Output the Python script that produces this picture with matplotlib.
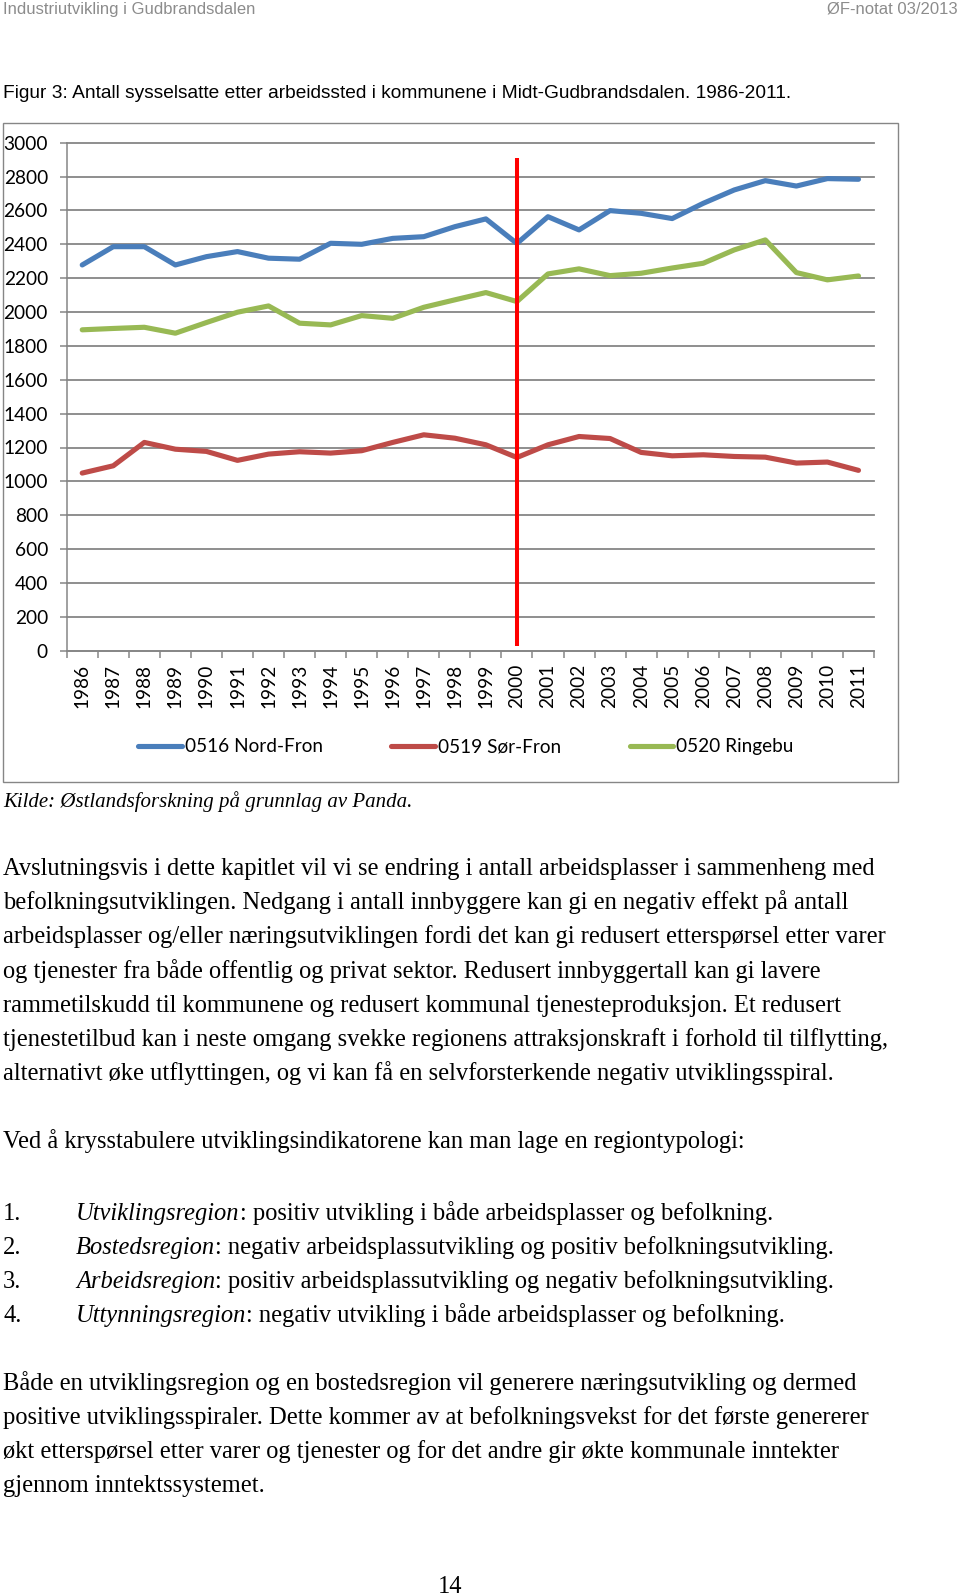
import matplotlib
matplotlib.use('Agg')
import matplotlib.pyplot as plt
from matplotlib.patches import Rectangle

# ---------------- data ----------------
years = ['1986', '1987', '1988', '1989', '1990', '1991', '1992', '1993', '1994',
         '1995', '1996', '1997', '1998', '1999', '2000', '2001', '2002', '2003',
         '2004', '2005', '2006', '2007', '2008', '2009', '2010', '2011']
nord_fron = [2278, 2386, 2386, 2278, 2327, 2357, 2318, 2312, 2406, 2400, 2435, 2445, 2504,
             2550, 2405, 2563, 2485, 2599, 2583, 2552, 2642, 2721, 2776, 2744, 2788, 2784]
sor_fron = [1049, 1092, 1230, 1190, 1177, 1124, 1161, 1175, 1167, 1181, 1230, 1275, 1255,
            1216, 1141, 1216, 1265, 1253, 1171, 1151, 1157, 1147, 1143, 1108, 1114, 1065]
ringebu = [1895, 1903, 1910, 1875, 1938, 1999, 2036, 1934, 1924, 1979, 1963, 2028, 2072,
           2115, 2062, 2225, 2255, 2215, 2229, 2260, 2288, 2367, 2426, 2233, 2190, 2213]
series_names = ['0516 Nord-Fron', '0519 Sør-Fron', '0520 Ringebu']
series_colors = ['#4A7EBB', '#BE4B48', '#98B954']
marker_year = '2000'
marker_span = [25, 2910]
yticks = [0, 200, 400, 600, 800, 1000, 1200, 1400, 1600, 1800, 2000, 2200, 2400, 2600, 2800, 3000]

header_left = 'Industriutvikling i Gudbrandsdalen'
header_right = 'ØF-notat 03/2013'
fig_title = 'Figur 3: Antall sysselsatte etter arbeidssted i kommunene i Midt-Gudbrandsdalen. 1986-2011.'
source = 'Kilde: Østlandsforskning på grunnlag av Panda.'
para1 = [
    'Avslutningsvis i dette kapitlet vil vi se endring i antall arbeidsplasser i sammenheng med',
    'befolkningsutviklingen. Nedgang i antall innbyggere kan gi en negativ effekt på antall',
    'arbeidsplasser og/eller næringsutviklingen fordi det kan gi redusert etterspørsel etter varer',
    'og tjenester fra både offentlig og privat sektor. Redusert innbyggertall kan gi lavere',
    'rammetilskudd til kommunene og redusert kommunal tjenesteproduksjon. Et redusert',
    'tjenestetilbud kan i neste omgang svekke regionens attraksjonskraft i forhold til tilflytting,',
    'alternativt øke utflyttingen, og vi kan få en selvforsterkende negativ utviklingsspiral.',
]
para2 = 'Ved å krysstabulere utviklingsindikatorene kan man lage en regiontypologi:'
list_nums = ['1.', '2.', '3.', '4.']
list_terms = ['Utviklingsregion', 'Bostedsregion', 'Arbeidsregion', 'Uttynningsregion']
list_rest = [': positiv utvikling i både arbeidsplasser og befolkning.',
             ': negativ arbeidsplassutvikling og positiv befolkningsutvikling.',
             ': positiv arbeidsplassutvikling og negativ befolkningsutvikling.',
             ': negativ utvikling i både arbeidsplasser og befolkning.']
para3 = [
    'Både en utviklingsregion og en bostedsregion vil generere næringsutvikling og dermed',
    'positive utviklingsspiraler. Dette kommer av at befolkningsvekst for det første genererer',
    'økt etterspørsel etter varer og tjenester og for det andre gir økte kommunale inntekter',
    'gjennom inntektssystemet.',
]
page_no = '14'

# ---------------- figure ----------------
plt.rcParams['font.family'] = ['Lato', 'DejaVu Sans']
W, H = 960, 1596
fig = plt.figure(figsize=(W / 100, H / 100), dpi=100)
fig.patch.set_facecolor('white')


def fx(px):
    return px / W


def fy(py):
    return 1 - py / H


GRID = '#868686'
ax_left, ax_right, ax_top, ax_bot = 66.7, 874.0, 142.7, 650.7
ax = fig.add_axes([fx(ax_left), fy(ax_bot), (ax_right - ax_left) / W, (ax_bot - ax_top) / H])

xs = list(range(len(years)))
handles = []
for vals, col in zip([nord_fron, sor_fron, ringebu], series_colors):
    ln, = ax.plot(xs, vals, color=col, lw=3.7, solid_capstyle='round',
                  solid_joinstyle='round', zorder=3)
    handles.append(ln)
ax.vlines(years.index(marker_year), marker_span[0], marker_span[1],
          color='#FF0000', lw=2.9, zorder=5)

ax.set_xlim(-0.5, len(years) - 0.5)
ax.set_ylim(yticks[0], yticks[-1])
ax.set_yticks(yticks)
ax.set_yticklabels([str(v) for v in yticks])
ax.set_xticks(xs)
ax.set_xticklabels(years, rotation=90)
ax.set_xticks([i - 0.5 for i in range(len(years) + 1)], minor=True)
ax.grid(axis='y', color=GRID, lw=1.3)
for gl in ax.get_ygridlines():
    gl.set_clip_on(False)
ax.set_axisbelow(True)
for s in ['top', 'right']:
    ax.spines[s].set_visible(False)
for s in ['left', 'bottom']:
    ax.spines[s].set_color(GRID)
    ax.spines[s].set_linewidth(1.1)
ax.tick_params(axis='y', direction='out', length=5, width=1.1, color=GRID,
               labelsize=13.8, pad=8.5)
ax.tick_params(axis='x', which='major', length=0, labelsize=13.7, pad=9.5)
ax.tick_params(axis='x', which='minor', direction='out', length=5, width=1.1, color=GRID)

# chart frame
fig.add_artist(Rectangle((fx(3), fy(782)), (898 - 3) / W, (782 - 123) / H,
                         transform=fig.transFigure, fill=False, ec=GRID, lw=1.0))

ax.legend(handles, series_names, loc='center', bbox_to_anchor=(fx(466), fy(746.7)),
          bbox_transform=fig.transFigure, ncol=3, frameon=False, fontsize=13.7,
          handlelength=2.3, handletextpad=0.15, columnspacing=3.6)

# ---------------- page text ----------------
fig.canvas.draw()
renderer = fig.canvas.get_renderer()


def width_of(t):
    return t.get_window_extent(renderer).width


def fit(xp, yp, s, target, **kw):
    t = fig.text(fx(xp), fy(yp), s, fontsize=10, va='baseline', **kw)
    w = width_of(t)
    t.set_fontsize(10 * target / w)
    return t


SANS = ['Liberation Sans', 'DejaVu Sans']
SERIF = ['Liberation Serif', 'DejaVu Serif']

hl = fit(3, 14, header_left, 252, family=SANS, color='#8C8C8C')
fig.text(fx(958), fy(14), header_right, fontsize=hl.get_fontsize(), va='baseline',
         ha='right', family=SANS, color='#8C8C8C')
fit(3, 97.5, fig_title, 789, family=SANS, color='black')
fit(3, 806.5, source, 410, family=SERIF, style='italic', color='black')

# body size from first line
probe = fit(3, 875, para1[0], 874, family=SERIF, color='black')
bs = probe.get_fontsize()


def body(xp, yp, s, **kw):
    return fig.text(fx(xp), fy(yp), s, fontsize=bs, va='baseline', family=SERIF,
                    color='black', **kw)


p1_base = [875, 909, 943, 978, 1012, 1046, 1080]
for i, (line, yb) in enumerate(zip(para1, p1_base)):
    if i > 0:
        body(3, yb, line)

body(3, 1148, para2)

list_base = [1220, 1254, 1288, 1322]
for num, term, rest, yb in zip(list_nums, list_terms, list_rest, list_base):
    body(3, yb, num)
    t = body(76, yb, term, style='italic')
    w = width_of(t)
    body(76 + w, yb, rest)

p3_base = [1390, 1424, 1458, 1492]
for line, yb in zip(para3, p3_base):
    body(3, yb, line)

body(450, 1593, page_no, ha='center')

fig.savefig('out.png', dpi=100)
